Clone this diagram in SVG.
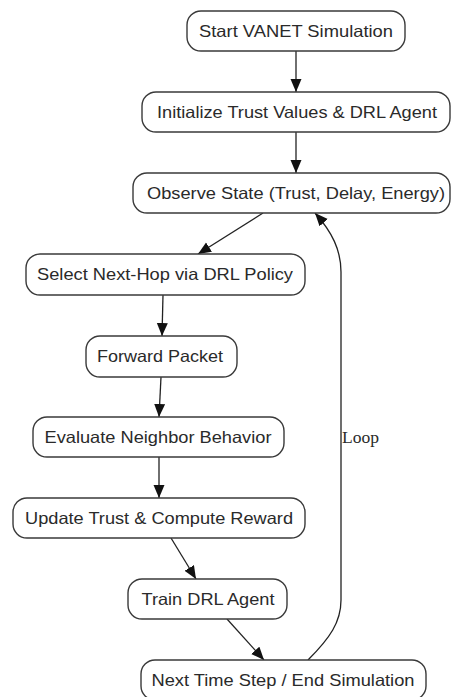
<svg xmlns="http://www.w3.org/2000/svg" width="451" height="697" viewBox="0 0 451 697">
<style>
.box{fill:#fff;stroke:#3a3a3a;stroke-width:1.4}
.lbl{font-family:"Liberation Sans",Arial,sans-serif;font-size:16.5px;fill:#2a2a2a;text-anchor:middle}
.edge{fill:none;stroke:#222;stroke-width:1.3}
.loop{font-family:"Liberation Serif","Times New Roman",serif;font-size:16px;fill:#2a2a2a}
</style>
<defs>
<marker id="ah" markerUnits="userSpaceOnUse" markerWidth="14" markerHeight="12" refX="13" refY="5.5" orient="auto">
<path d="M0,0 L13,5.5 L0,11 Z" fill="#111"/>
</marker>
</defs>
<rect width="451" height="697" fill="#fff"/>
<g id="connectors">
<path class="edge" marker-end="url(#ah)" d="M296,51 L296,92"/>
<path class="edge" marker-end="url(#ah)" d="M296,132 L296,173"/>
<path class="edge" marker-end="url(#ah)" d="M263,213 L198,254"/>
<path class="edge" marker-end="url(#ah)" d="M163,295 L162,336"/>
<path class="edge" marker-end="url(#ah)" d="M161,377 L159,417"/>
<path class="edge" marker-end="url(#ah)" d="M159,457 L159,498"/>
<path class="edge" marker-end="url(#ah)" d="M171,538 L196,579"/>
<path class="edge" marker-end="url(#ah)" d="M227,619 L264,660"/>
<path class="edge" marker-end="url(#ah)" d="M308,660 C330,638 341,622 341,600 L341,272 C341,250 332,232 315,213"/>
<text class="loop" x="342" y="443" textLength="37" lengthAdjust="spacingAndGlyphs">Loop</text>
</g>
<g id="n1"><rect class="box" x="187" y="11" width="218" height="40" rx="14"/><text class="lbl" x="296" y="36.5" textLength="194" lengthAdjust="spacingAndGlyphs">Start VANET Simulation</text></g>
<g id="n2"><rect class="box" x="142" y="92" width="308" height="40" rx="14"/><text class="lbl" x="297" y="117.5" textLength="280" lengthAdjust="spacingAndGlyphs">Initialize Trust Values &amp; DRL Agent</text></g>
<g id="n3"><rect class="box" x="133" y="173" width="317" height="40" rx="14"/><text class="lbl" x="296" y="198.5" textLength="298" lengthAdjust="spacingAndGlyphs">Observe State (Trust, Delay, Energy)</text></g>
<g id="n4"><rect class="box" x="26" y="254" width="279" height="41" rx="14"/><text class="lbl" x="165" y="280" textLength="256" lengthAdjust="spacingAndGlyphs">Select Next-Hop via DRL Policy</text></g>
<g id="n5"><rect class="box" x="86" y="336" width="151" height="41" rx="14"/><text class="lbl" x="160" y="362" textLength="126" lengthAdjust="spacingAndGlyphs">Forward Packet</text></g>
<g id="n6"><rect class="box" x="33" y="417" width="251" height="40" rx="14"/><text class="lbl" x="158" y="442.5" textLength="227" lengthAdjust="spacingAndGlyphs">Evaluate Neighbor Behavior</text></g>
<g id="n7"><rect class="box" x="13" y="498" width="292" height="40" rx="14"/><text class="lbl" x="159" y="523.5" textLength="268" lengthAdjust="spacingAndGlyphs">Update Trust &amp; Compute Reward</text></g>
<g id="n8"><rect class="box" x="128" y="579" width="159" height="40" rx="14"/><text class="lbl" x="208" y="604.5" textLength="133" lengthAdjust="spacingAndGlyphs">Train DRL Agent</text></g>
<g id="n9"><rect class="box" x="141" y="660" width="285" height="40" rx="14"/><text class="lbl" x="283" y="685.5" textLength="263" lengthAdjust="spacingAndGlyphs">Next Time Step / End Simulation</text></g>
</svg>
